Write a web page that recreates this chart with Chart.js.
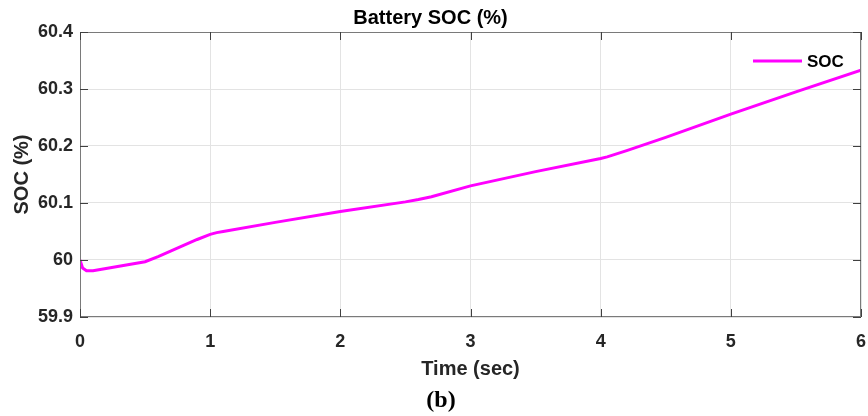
<!DOCTYPE html>
<html><head><meta charset="utf-8">
<script src="https://cdn.jsdelivr.net/npm/chart.js@4/dist/chart.umd.min.js"></script>
<style>
html,body{margin:0;padding:0;background:#fff;}
#wrap{position:relative;width:868px;height:416px;}
#cap{position:absolute;left:0;width:882px;top:385px;text-align:center;font:bold 24px "Liberation Serif","Times New Roman",serif;color:#000;line-height:28px;}
</style></head><body>
<div id="wrap"><canvas id="c" width="868" height="416"></canvas><div id="cap">(b)</div></div>
<script>
const chartTitle = 'Battery SOC (%)';
const xTitle = 'Time (sec)';
const yTitle = 'SOC (%)';
const seriesLabel = 'SOC';
const timeSec = [0, 0.02, 0.05, 0.1, 0.2, 0.3, 0.4, 0.5, 0.6, 0.7, 0.8, 0.9, 1.0, 1.05, 1.1, 1.5, 2.0, 2.5, 2.6, 2.7, 3.0, 3.5, 4.0, 4.05, 4.2, 4.5, 5.0, 5.5, 6.0];
const socValues = [60.0, 59.986, 59.981, 59.981, 59.985, 59.989, 59.993, 59.997, 60.006, 60.016, 60.026, 60.036, 60.045, 60.048, 60.050, 60.066, 60.085, 60.102, 60.106, 60.111, 60.130, 60.155, 60.178, 60.181, 60.192, 60.215, 60.256, 60.295, 60.333];
const xTicks = [0, 1, 2, 3, 4, 5, 6];
const xTickLabels = ['0', '1', '2', '3', '4', '5', '6'];
const yTicks = [59.9, 60.0, 60.1, 60.2, 60.3, 60.4];
const yTickLabels = ['59.9', '60', '60.1', '60.2', '60.3', '60.4'];

const FONT = '"Liberation Sans", Arial, Helvetica, sans-serif';
const TXT = '#262626';

const framePlugin = {
  id: 'frame',
  afterDraw(chart) {
    const {ctx, chartArea: a, scales: {x, y}} = chart;
    ctx.save();
    ctx.lineWidth = 1;
    ctx.strokeStyle = '#7a7a7a';
    ctx.strokeRect(Math.round(a.left) + 0.5, Math.round(a.top) + 0.5, Math.round(a.right - a.left) - 1, Math.round(a.bottom - a.top) - 1);
    ctx.strokeStyle = '#404040';
    const L = 8;
    ctx.beginPath();
    xTicks.forEach(v => {
      const px = Math.round(x.getPixelForValue(v)) + 0.5;
      ctx.moveTo(px, a.bottom); ctx.lineTo(px, a.bottom - L);
      ctx.moveTo(px, a.top); ctx.lineTo(px, a.top + L);
    });
    yTicks.forEach(v => {
      const py = Math.round(y.getPixelForValue(v)) + 0.5;
      ctx.moveTo(a.left, py); ctx.lineTo(a.left + L, py);
      ctx.moveTo(a.right, py); ctx.lineTo(a.right - L, py);
    });
    ctx.stroke();
    // legend
    const ds = chart.data.datasets[0];
    const ly = a.top + 29;
    ctx.strokeStyle = ds.borderColor;
    ctx.lineWidth = 3;
    ctx.beginPath();
    ctx.moveTo(a.right - 108, ly); ctx.lineTo(a.right - 59, ly);
    ctx.stroke();
    ctx.fillStyle = '#000';
    ctx.font = 'bold 17px ' + FONT;
    ctx.textBaseline = 'middle';
    ctx.textAlign = 'left';
    ctx.fillText(ds.label, a.right - 54, ly + 1);
    ctx.restore();
  }
};

new Chart(document.getElementById('c'), {
  type: 'line',
  data: {
    datasets: [{
      label: seriesLabel,
      data: timeSec.map((t, i) => ({x: t, y: socValues[i]})),
      borderColor: '#ff00ff',
      borderWidth: 3,
      pointRadius: 0,
      tension: 0,
      fill: false
    }]
  },
  options: {
    responsive: false,
    animation: false,
    layout: {padding: {left: 0, right: 7, top: 0, bottom: 0}},
    plugins: {
      legend: {display: false},
      tooltip: {enabled: false},
      title: {
        display: true, text: chartTitle, color: '#000',
        font: {family: FONT, size: 20, weight: 'bold', lineHeight: 1.2},
        padding: {top: 6, bottom: 2}
      }
    },
    scales: {
      x: {
        type: 'linear', min: 0, max: 6,
        afterBuildTicks: s => { s.ticks = xTicks.map(v => ({value: v})); },
        afterFit: s => { s.height = 99; s.paddingLeft = 0; s.paddingRight = 0; },
        ticks: {
          callback: (v) => xTickLabels[xTicks.indexOf(v)],
          color: TXT, padding: 14, maxRotation: 0,
          font: {family: FONT, size: 18, weight: 'bold'}
        },
        grid: {color: '#e3e3e3', lineWidth: 1, drawTicks: false},
        border: {display: false},
        title: {
          display: true, text: xTitle, color: TXT,
          font: {family: FONT, size: 20, weight: 'bold', lineHeight: 1.2},
          padding: {top: 0, bottom: 35}
        }
      },
      y: {
        type: 'linear', min: 59.9, max: 60.4,
        afterBuildTicks: s => { s.ticks = yTicks.map(v => ({value: v})); },
        afterFit: s => { s.width = 80; s.paddingTop = 0; s.paddingBottom = 0; },
        ticks: {
          callback: (v) => yTickLabels[yTicks.findIndex(t => Math.abs(t - v) < 1e-9)],
          color: TXT, padding: 7,
          font: {family: FONT, size: 18, weight: 'bold'}
        },
        grid: {color: '#e3e3e3', lineWidth: 1, drawTicks: false},
        border: {display: false},
        title: {
          display: true, text: yTitle, color: TXT,
          font: {family: FONT, size: 20, weight: 'bold', lineHeight: 1.2},
          padding: {top: 10.5, bottom: 0}
        }
      }
    }
  },
  plugins: [framePlugin]
});
</script>
</body></html>
